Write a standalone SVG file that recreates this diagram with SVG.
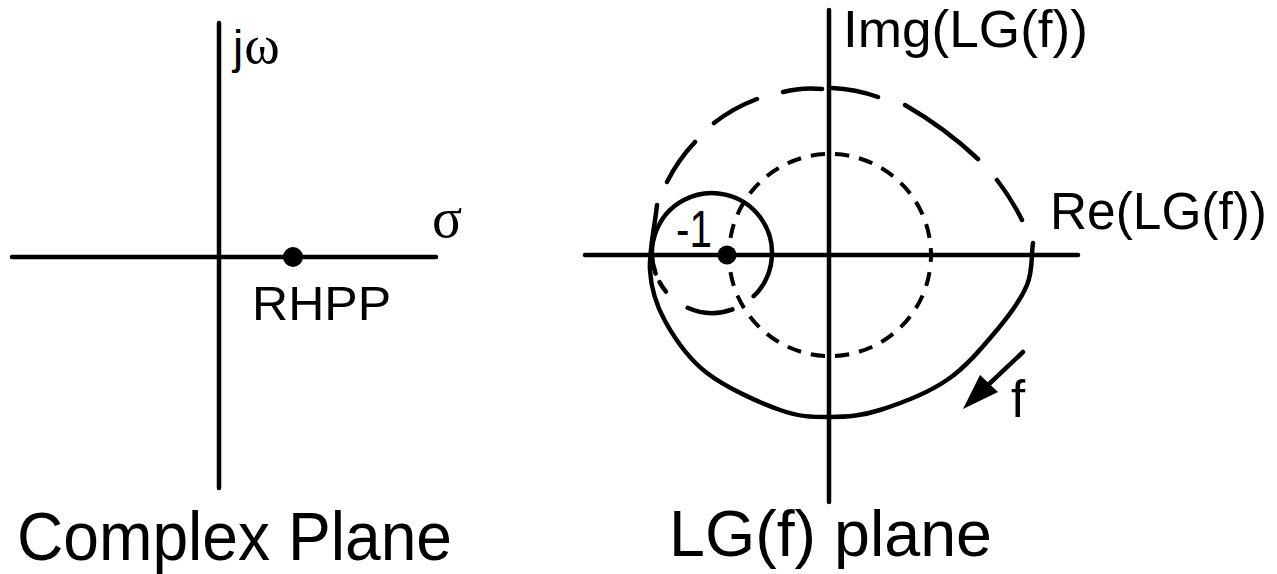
<svg xmlns="http://www.w3.org/2000/svg" width="1277" height="574" viewBox="0 0 1277 574">
<style>
.ax{stroke:#000;stroke-width:4.5;stroke-linecap:round;fill:none}
.cv{stroke:#000;stroke-width:4.5;stroke-linecap:round;fill:none}
.sd{stroke:#000;stroke-width:4;fill:none;stroke-dasharray:14 10;stroke-dashoffset:7}
.t{font-family:"Liberation Sans",Arial,sans-serif;fill:#000}
.g{font-family:"Liberation Serif","Times New Roman",serif;fill:#000}
</style>
<rect width="1277" height="574" fill="#fff"/>
<g id="complex-plane">
  <line class="ax" x1="219" y1="23" x2="219" y2="488"/>
  <line class="ax" x1="12" y1="257" x2="436" y2="257"/>
  <circle id="rhpp-dot" cx="293" cy="257" r="10" fill="#000"/>
  <text class="t" x="233" y="63" font-size="46">j<tspan class="g" font-size="54" dx="1">ω</tspan></text>
  <text class="g" x="432" y="237" font-size="56">σ</text>
  <text class="t" x="252" y="320" font-size="48" textLength="139" lengthAdjust="spacingAndGlyphs">RHPP</text>
  <text class="t" x="17" y="560" font-size="68" textLength="435" lengthAdjust="spacingAndGlyphs">Complex Plane</text>
</g>
<g id="lg-plane">
  <line class="ax" x1="829" y1="10" x2="829" y2="502"/>
  <line class="ax" x1="585" y1="255" x2="1078" y2="255"/>
  <text class="t" x="843" y="47" font-size="52" textLength="245" lengthAdjust="spacingAndGlyphs">Img(LG(f))</text>
  <text class="t" x="1050" y="229" font-size="51" textLength="217" lengthAdjust="spacingAndGlyphs">Re(LG(f))</text>
  <text class="t" x="676" y="247" font-size="52" textLength="36" lengthAdjust="spacingAndGlyphs">-1</text>
  <text class="t" x="1011" y="417" font-size="51">f</text>
  <text class="t" x="669" y="556" font-size="65" textLength="323" lengthAdjust="spacingAndGlyphs">LG(f) plane</text>
  <circle id="minus-one" cx="727" cy="255" r="9.5" fill="#000"/>
</g>
<g id="connectors">
  <circle class="sd" cx="830" cy="255" r="101" pathLength="624"/>
  <path class="cv" d="M1033 243 C1031 257 1033 270.5 1027 285 C1021 299.5 1010.3 314.2 997 330 C983.7 345.8 966.5 366.7 947 380 C927.5 393.3 899.5 403.8 880 410 C860.5 416.2 846.7 417 830 417 C813.3 417 800.5 417.3 780 410 C759.5 402.7 726.5 388 707 373 C687.5 358 674.5 338.2 665 321 C655.5 303.8 651 289.2 650 270 C649 250.8 654.7 226.7 657 205"/>
  <path class="cv" d="M667 182 Q678 160 695 142 M714 123 Q733 108 757 99 M783 92 Q802 87 822 89 M832 88 Q855.5 89 878 97 M905 105 Q945 128 978 159 M997 180 Q1011.5 199 1022 220"/>
  <path class="cv" d="M753.7 296.2 A60 60 0 1 0 655.6 273.5"/>
  <path class="cv" d="M666 291.6 A60 60 0 0 1 659.5 282.1 M732.5 309.4 A60 60 0 0 1 687.6 307.8"/>
  <line class="cv" x1="1023" y1="352" x2="987" y2="386"/>
  <polygon points="963,409 980,375 998,392" fill="#000"/>
</g>
</svg>
